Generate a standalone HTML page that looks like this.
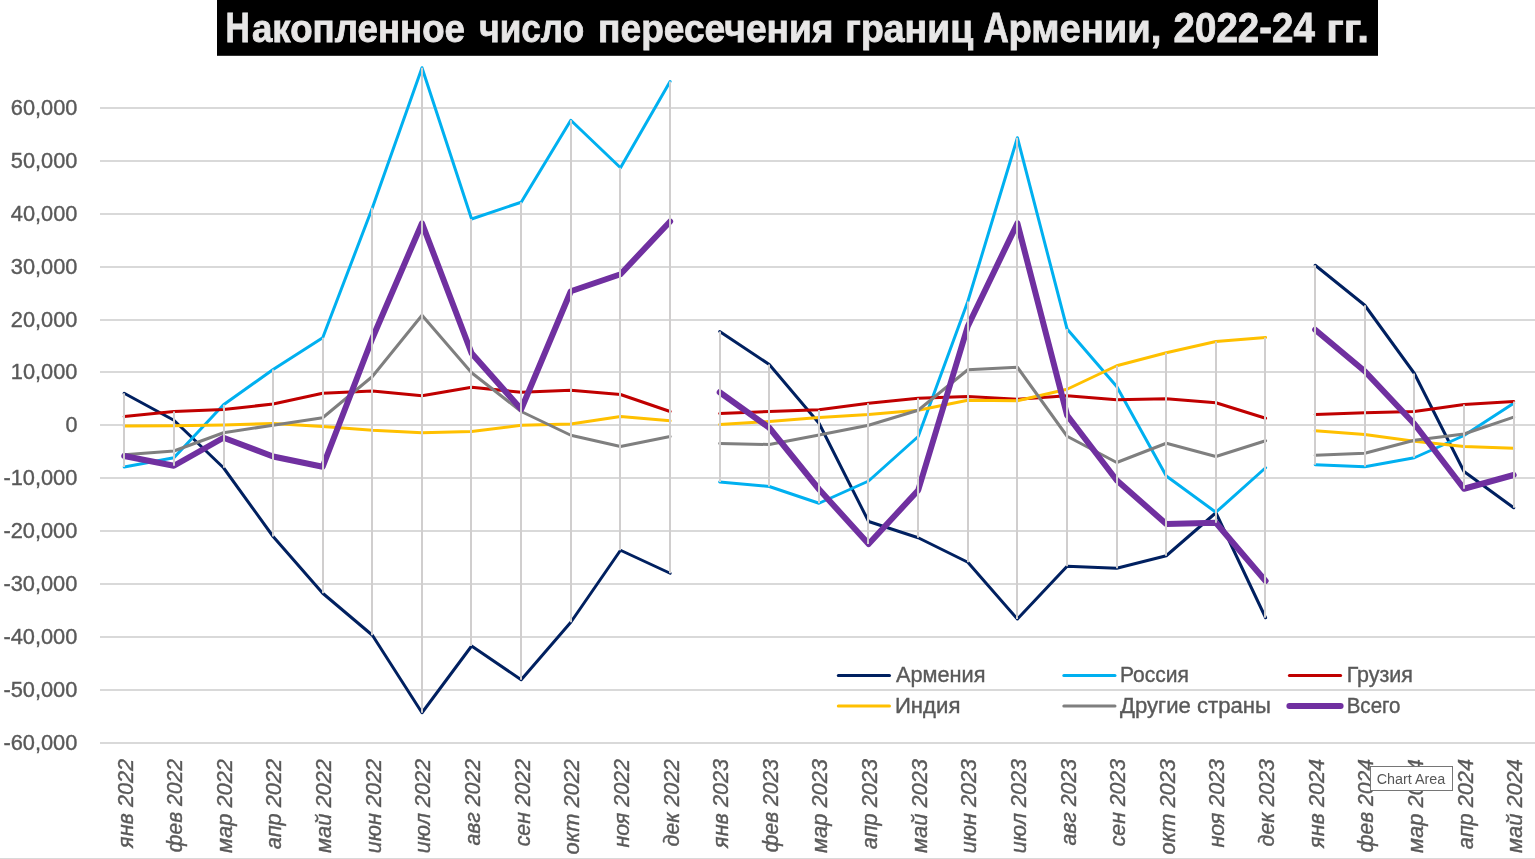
<!DOCTYPE html>
<html lang="ru"><head><meta charset="utf-8"><title>Накопленное число пересечения границ Армении, 2022-24 гг.</title>
<style>
html,body{margin:0;padding:0;background:#fff;}
body{width:1535px;height:859px;overflow:hidden;position:relative;font-family:"Liberation Sans",sans-serif;}
svg{position:absolute;left:0;top:0;display:block;}
text{font-family:"Liberation Sans",sans-serif;}
.ax{font-size:22px;fill:#595959;stroke:#595959;stroke-width:0.38px;}
.cat{font-size:21.5px;font-style:italic;fill:#595959;stroke:#595959;stroke-width:0.38px;}
.lg{font-size:21.5px;fill:#595959;stroke:#595959;stroke-width:0.38px;}
.ttl{font-size:39.2px;font-weight:bold;fill:#E7E6E6;stroke:#E7E6E6;stroke-width:0.8px;}
.tip{font-size:15.5px;fill:#575757;}
</style></head><body>
<svg width="1535" height="859" viewBox="0 0 1535 859">
<rect x="0" y="0" width="1535" height="859" fill="#ffffff"/>

<g stroke="#D9D9D9" stroke-width="2" fill="none">
<line x1="100" y1="108" x2="1535" y2="108"/>
<line x1="100" y1="161" x2="1535" y2="161"/>
<line x1="100" y1="214" x2="1535" y2="214"/>
<line x1="100" y1="267" x2="1535" y2="267"/>
<line x1="100" y1="320" x2="1535" y2="320"/>
<line x1="100" y1="372" x2="1535" y2="372"/>
<line x1="100" y1="425" x2="1535" y2="425"/>
<line x1="100" y1="478" x2="1535" y2="478"/>
<line x1="100" y1="531" x2="1535" y2="531"/>
<line x1="100" y1="584" x2="1535" y2="584"/>
<line x1="100" y1="637" x2="1535" y2="637"/>
<line x1="100" y1="690" x2="1535" y2="690"/>
<line x1="100" y1="743" x2="1535" y2="743"/>
</g>
<line x1="0" y1="858.5" x2="1535" y2="858.5" stroke="#D9D9D9" stroke-width="1"/>
<g class="ax" text-anchor="end">
<text x="77.4" y="114.70" textLength="66.6" lengthAdjust="spacingAndGlyphs">60,000</text>
<text x="77.4" y="167.70" textLength="66.6" lengthAdjust="spacingAndGlyphs">50,000</text>
<text x="77.4" y="220.70" textLength="66.6" lengthAdjust="spacingAndGlyphs">40,000</text>
<text x="77.4" y="273.70" textLength="66.6" lengthAdjust="spacingAndGlyphs">30,000</text>
<text x="77.4" y="326.70" textLength="66.6" lengthAdjust="spacingAndGlyphs">20,000</text>
<text x="77.4" y="378.70" textLength="66.6" lengthAdjust="spacingAndGlyphs">10,000</text>
<text x="77.4" y="431.70" textLength="12.0" lengthAdjust="spacingAndGlyphs">0</text>
<text x="77.4" y="484.70" textLength="74.0" lengthAdjust="spacingAndGlyphs">-10,000</text>
<text x="77.4" y="537.70" textLength="74.0" lengthAdjust="spacingAndGlyphs">-20,000</text>
<text x="77.4" y="590.70" textLength="74.0" lengthAdjust="spacingAndGlyphs">-30,000</text>
<text x="77.4" y="643.70" textLength="74.0" lengthAdjust="spacingAndGlyphs">-40,000</text>
<text x="77.4" y="696.70" textLength="74.0" lengthAdjust="spacingAndGlyphs">-50,000</text>
<text x="77.4" y="749.70" textLength="74.0" lengthAdjust="spacingAndGlyphs">-60,000</text>
</g>
<g fill="none" stroke-linejoin="round" stroke-linecap="round">
<path d="M124.2,393.25 L173.9,420.25 L223.5,467.75 L273.1,536.50 L322.7,593.25 L372.4,635.25 L422.0,712.75 L471.6,646.00 L521.2,679.75 L570.8,622.25 L620.5,550.25 L670.1,573.25 M719.7,331.50 L769.3,364.50 L819.0,423.25 L868.6,521.50 L918.2,537.75 L967.8,562.25 L1017.4,619.00 L1067.1,566.25 L1116.7,568.25 L1166.3,555.75 L1215.9,512.75 L1265.6,617.75 M1315.2,265.25 L1364.8,305.25 L1414.4,373.50 L1464.0,471.50 L1513.7,507.75" stroke="#002060" stroke-width="3"/>
<path d="M124.2,467.00 L173.9,457.75 L223.5,404.75 L273.1,369.50 L322.7,337.75 L372.4,207.75 L422.0,67.75 L471.6,219.00 L521.2,202.25 L570.8,120.25 L620.5,167.75 L670.1,81.50 M719.7,482.00 L769.3,486.50 L819.0,503.25 L868.6,481.00 L918.2,436.50 L967.8,301.50 L1017.4,137.75 L1067.1,329.00 L1116.7,386.50 L1166.3,476.00 L1215.9,512.25 L1265.6,467.75 M1315.2,464.75 L1364.8,466.65 L1414.4,457.75 L1464.0,435.50 L1513.7,403.25" stroke="#00B0F0" stroke-width="3"/>
<path d="M124.2,416.50 L173.9,411.50 L223.5,409.50 L273.1,404.00 L322.7,393.25 L372.4,391.00 L422.0,395.75 L471.6,387.25 L521.2,392.25 L570.8,390.25 L620.5,394.50 L670.1,411.50 M719.7,413.50 L769.3,411.50 L819.0,409.85 L868.6,403.25 L918.2,398.25 L967.8,396.50 L1017.4,399.25 L1067.1,395.75 L1116.7,399.75 L1166.3,398.75 L1215.9,402.75 L1265.6,418.25 M1315.2,414.50 L1364.8,412.75 L1414.4,411.50 L1464.0,404.50 L1513.7,401.50" stroke="#C00000" stroke-width="3"/>
<path d="M124.2,426.00 L173.9,425.75 L223.5,425.00 L273.1,423.50 L322.7,426.50 L372.4,430.25 L422.0,432.75 L471.6,431.50 L521.2,425.25 L570.8,424.00 L620.5,416.50 L670.1,420.75 M719.7,424.50 L769.3,421.50 L819.0,417.50 L868.6,414.50 L918.2,410.25 L967.8,400.25 L1017.4,400.75 L1067.1,389.25 L1116.7,365.75 L1166.3,352.75 L1215.9,341.50 L1265.6,337.50 M1315.2,430.85 L1364.8,434.45 L1414.4,441.25 L1464.0,446.50 L1513.7,448.25" stroke="#FFC000" stroke-width="3"/>
<path d="M124.2,454.75 L173.9,451.00 L223.5,432.75 L273.1,425.25 L322.7,417.75 L372.4,376.50 L422.0,315.25 L471.6,372.75 L521.2,411.50 L570.8,435.25 L620.5,446.50 L670.1,436.50 M719.7,443.50 L769.3,444.50 L819.0,435.00 L868.6,425.25 L918.2,410.25 L967.8,369.75 L1017.4,367.25 L1067.1,436.25 L1116.7,462.50 L1166.3,443.25 L1215.9,456.50 L1265.6,440.75 M1315.2,455.35 L1364.8,453.25 L1414.4,440.25 L1464.0,434.00 L1513.7,417.15" stroke="#7F7F7F" stroke-width="3"/>
<path d="M124.2,456.00 L173.9,465.75 L223.5,437.75 L273.1,456.50 L322.7,466.75 L372.4,338.25 L422.0,223.25 L471.6,353.25 L521.2,409.25 L570.8,291.25 L620.5,274.25 L670.1,221.50 M719.7,392.25 L769.3,427.75 L819.0,489.25 L868.6,544.00 L918.2,490.25 L967.8,326.25 L1017.4,223.25 L1067.1,415.25 L1116.7,480.25 L1166.3,524.00 L1215.9,522.75 L1265.6,581.00 M1315.2,329.75 L1364.8,371.25 L1414.4,424.00 L1464.0,488.75 L1513.7,475.00" stroke="#7030A0" stroke-width="6"/>
</g>
<g stroke="#D0CECE" stroke-width="2" fill="none">
<line x1="124" y1="393.2" x2="124" y2="467.0"/>
<line x1="174" y1="411.5" x2="174" y2="465.8"/>
<line x1="224" y1="404.8" x2="224" y2="467.8"/>
<line x1="273" y1="369.5" x2="273" y2="536.5"/>
<line x1="323" y1="337.8" x2="323" y2="593.2"/>
<line x1="372" y1="207.8" x2="372" y2="635.2"/>
<line x1="422" y1="67.8" x2="422" y2="712.8"/>
<line x1="471" y1="219.0" x2="471" y2="646.0"/>
<line x1="521" y1="202.2" x2="521" y2="679.8"/>
<line x1="571" y1="120.2" x2="571" y2="622.2"/>
<line x1="620" y1="167.8" x2="620" y2="550.2"/>
<line x1="670" y1="81.5" x2="670" y2="573.2"/>
<line x1="720" y1="331.5" x2="720" y2="482.0"/>
<line x1="769" y1="364.5" x2="769" y2="486.5"/>
<line x1="819" y1="409.9" x2="819" y2="503.2"/>
<line x1="868" y1="403.2" x2="868" y2="544.0"/>
<line x1="918" y1="398.2" x2="918" y2="537.8"/>
<line x1="968" y1="301.5" x2="968" y2="562.2"/>
<line x1="1017" y1="137.8" x2="1017" y2="619.0"/>
<line x1="1067" y1="329.0" x2="1067" y2="566.2"/>
<line x1="1117" y1="365.8" x2="1117" y2="568.2"/>
<line x1="1166" y1="352.8" x2="1166" y2="555.8"/>
<line x1="1216" y1="341.5" x2="1216" y2="522.8"/>
<line x1="1265" y1="337.5" x2="1265" y2="617.8"/>
<line x1="1315" y1="265.2" x2="1315" y2="464.8"/>
<line x1="1365" y1="305.2" x2="1365" y2="466.6"/>
<line x1="1414" y1="373.5" x2="1414" y2="457.8"/>
<line x1="1464" y1="404.5" x2="1464" y2="488.8"/>
<line x1="1514" y1="401.5" x2="1514" y2="507.8"/>
</g>
<g class="cat" text-anchor="end">
<text transform="translate(132.6,759) rotate(-90)" x="0" y="0" textLength="88.9" lengthAdjust="spacingAndGlyphs">янв 2022</text>
<text transform="translate(182.2,759) rotate(-90)" x="0" y="0" textLength="93.3" lengthAdjust="spacingAndGlyphs">фев 2022</text>
<text transform="translate(231.8,759) rotate(-90)" x="0" y="0" textLength="93.9" lengthAdjust="spacingAndGlyphs">мар 2022</text>
<text transform="translate(281.4,759) rotate(-90)" x="0" y="0" textLength="90.2" lengthAdjust="spacingAndGlyphs">апр 2022</text>
<text transform="translate(331.1,759) rotate(-90)" x="0" y="0" textLength="93.9" lengthAdjust="spacingAndGlyphs">май 2022</text>
<text transform="translate(380.7,759) rotate(-90)" x="0" y="0" textLength="94.2" lengthAdjust="spacingAndGlyphs">июн 2022</text>
<text transform="translate(430.3,759) rotate(-90)" x="0" y="0" textLength="94.2" lengthAdjust="spacingAndGlyphs">июл 2022</text>
<text transform="translate(480.0,759) rotate(-90)" x="0" y="0" textLength="86.6" lengthAdjust="spacingAndGlyphs">авг 2022</text>
<text transform="translate(529.6,759) rotate(-90)" x="0" y="0" textLength="87.3" lengthAdjust="spacingAndGlyphs">сен 2022</text>
<text transform="translate(579.2,759) rotate(-90)" x="0" y="0" textLength="95.5" lengthAdjust="spacingAndGlyphs">окт 2022</text>
<text transform="translate(628.9,759) rotate(-90)" x="0" y="0" textLength="88.6" lengthAdjust="spacingAndGlyphs">ноя 2022</text>
<text transform="translate(678.5,759) rotate(-90)" x="0" y="0" textLength="87.4" lengthAdjust="spacingAndGlyphs">дек 2022</text>
<text transform="translate(728.1,759) rotate(-90)" x="0" y="0" textLength="88.9" lengthAdjust="spacingAndGlyphs">янв 2023</text>
<text transform="translate(777.7,759) rotate(-90)" x="0" y="0" textLength="93.3" lengthAdjust="spacingAndGlyphs">фев 2023</text>
<text transform="translate(827.4,759) rotate(-90)" x="0" y="0" textLength="93.9" lengthAdjust="spacingAndGlyphs">мар 2023</text>
<text transform="translate(877.0,759) rotate(-90)" x="0" y="0" textLength="90.2" lengthAdjust="spacingAndGlyphs">апр 2023</text>
<text transform="translate(926.6,759) rotate(-90)" x="0" y="0" textLength="93.9" lengthAdjust="spacingAndGlyphs">май 2023</text>
<text transform="translate(976.3,759) rotate(-90)" x="0" y="0" textLength="94.2" lengthAdjust="spacingAndGlyphs">июн 2023</text>
<text transform="translate(1025.9,759) rotate(-90)" x="0" y="0" textLength="94.2" lengthAdjust="spacingAndGlyphs">июл 2023</text>
<text transform="translate(1075.5,759) rotate(-90)" x="0" y="0" textLength="86.6" lengthAdjust="spacingAndGlyphs">авг 2023</text>
<text transform="translate(1125.2,759) rotate(-90)" x="0" y="0" textLength="87.3" lengthAdjust="spacingAndGlyphs">сен 2023</text>
<text transform="translate(1174.8,759) rotate(-90)" x="0" y="0" textLength="95.5" lengthAdjust="spacingAndGlyphs">окт 2023</text>
<text transform="translate(1224.4,759) rotate(-90)" x="0" y="0" textLength="88.6" lengthAdjust="spacingAndGlyphs">ноя 2023</text>
<text transform="translate(1274.0,759) rotate(-90)" x="0" y="0" textLength="87.4" lengthAdjust="spacingAndGlyphs">дек 2023</text>
<text transform="translate(1323.7,759) rotate(-90)" x="0" y="0" textLength="88.9" lengthAdjust="spacingAndGlyphs">янв 2024</text>
<text transform="translate(1373.3,759) rotate(-90)" x="0" y="0" textLength="93.3" lengthAdjust="spacingAndGlyphs">фев 2024</text>
<text transform="translate(1422.9,759) rotate(-90)" x="0" y="0" textLength="93.9" lengthAdjust="spacingAndGlyphs">мар 2024</text>
<text transform="translate(1472.6,759) rotate(-90)" x="0" y="0" textLength="90.2" lengthAdjust="spacingAndGlyphs">апр 2024</text>
<text transform="translate(1522.2,759) rotate(-90)" x="0" y="0" textLength="93.9" lengthAdjust="spacingAndGlyphs">май 2024</text>
</g>
<g fill="none" stroke-linecap="round">
<line x1="838.3" y1="675.5" x2="889.5" y2="675.5" stroke="#002060" stroke-width="3"/>
<line x1="1063.8" y1="675.5" x2="1115.0" y2="675.5" stroke="#00B0F0" stroke-width="3"/>
<line x1="1289.4" y1="675.5" x2="1340.6000000000001" y2="675.5" stroke="#C00000" stroke-width="3"/>
<line x1="838.3" y1="706" x2="889.5" y2="706" stroke="#FFC000" stroke-width="3"/>
<line x1="1063.8" y1="706" x2="1115.0" y2="706" stroke="#7F7F7F" stroke-width="3"/>
<line x1="1289.4" y1="706" x2="1340.6000000000001" y2="706" stroke="#7030A0" stroke-width="6"/>
</g>
<g class="lg">
<text x="895.9" y="682.2" textLength="89.6" lengthAdjust="spacingAndGlyphs">Армения</text>
<text x="1120" y="682.2" textLength="69" lengthAdjust="spacingAndGlyphs">Россия</text>
<text x="1346.7" y="682.2" textLength="66.3" lengthAdjust="spacingAndGlyphs">Грузия</text>
<text x="894.9" y="712.7" textLength="65.5" lengthAdjust="spacingAndGlyphs">Индия</text>
<text x="1120" y="712.7" textLength="151" lengthAdjust="spacingAndGlyphs">Другие страны</text>
<text x="1346.7" y="712.7" textLength="53.8" lengthAdjust="spacingAndGlyphs">Всего</text>
</g>
<rect x="217" y="0" width="1161" height="55.8" fill="#000000"/>
<g class="ttl">
<text y="42"><tspan x="225.47" textLength="24.35" lengthAdjust="spacingAndGlyphs" style="font-size:42.5px">Н</tspan><tspan x="252.01" textLength="212.91" lengthAdjust="spacingAndGlyphs" style="font-size:39.2px">акопленное</tspan></text>
<text y="42"><tspan x="479.3" textLength="104.91" lengthAdjust="spacingAndGlyphs" style="font-size:39.2px">число</tspan></text>
<text y="42"><tspan x="598.05" textLength="235.44" lengthAdjust="spacingAndGlyphs" style="font-size:39.2px">пересечения</tspan></text>
<text y="42"><tspan x="845.37" textLength="127.88" lengthAdjust="spacingAndGlyphs" style="font-size:39.2px">границ</tspan></text>
<text y="42"><tspan x="983.46" textLength="25.34" lengthAdjust="spacingAndGlyphs" style="font-size:42.5px">А</tspan><tspan x="1008.47" textLength="152.95" lengthAdjust="spacingAndGlyphs" style="font-size:39.2px">рмении,</tspan></text>
<text y="42"><tspan x="1173.56" textLength="141.33" lengthAdjust="spacingAndGlyphs" style="font-size:42.5px">2022-24</tspan></text>
<text y="42"><tspan x="1326.25" textLength="42.65" lengthAdjust="spacingAndGlyphs" style="font-size:39.2px">гг.</tspan></text>
</g>
<rect x="1370.5" y="766.5" width="82" height="24" fill="#ffffff" stroke="#767676" stroke-width="1"/>
<text class="tip" x="1376.7" y="784.2" textLength="68.6" lengthAdjust="spacingAndGlyphs">Chart Area</text>
</svg></body></html>
